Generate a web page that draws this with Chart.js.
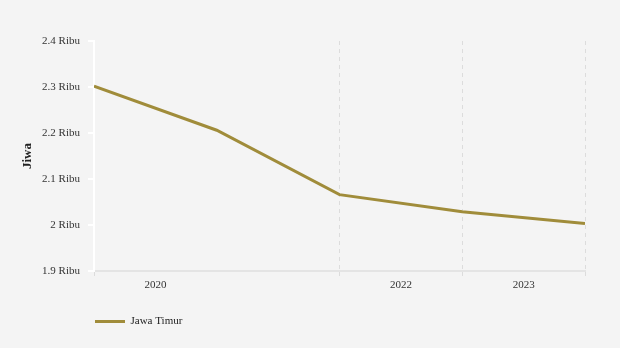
<!DOCTYPE html>
<html>
<head>
<meta charset="utf-8">
<script src="https://cdn.jsdelivr.net/npm/chart.js@4"></script>
<style>
  html, body { margin: 0; padding: 0; background: #f4f4f4; }
  #wrap { width: 620px; height: 348px; }
</style>
</head>
<body>
<div id="wrap"><canvas id="chart"></canvas></div>
<script>
// Data (values in Ribu)
const xPos = [0, 1, 2, 3, 4];
const values = [2.302, 2.206, 2.066, 2.029, 2.003];
const seriesName = "Jawa Timur";
const gridTicks = [0, 2, 3, 4];
const labelTicks = [0.5, 2.5, 3.5];
const labelText = ["2020", "2022", "2023"];

const lineColor = "#a08c3a";
const fontFamily = "'Liberation Serif', 'Times New Roman', serif";

const ctx = document.getElementById("chart");
new Chart(ctx, {
  type: "line",
  data: {
    datasets: [{
      label: seriesName,
      data: xPos.map((x, i) => ({ x: x, y: values[i] })),
      borderColor: lineColor,
      backgroundColor: lineColor,
      borderWidth: 3,
      pointRadius: 0,
      tension: 0
    }]
  },
  options: {
    responsive: true,
    maintainAspectRatio: false,
    animation: false,
    layout: { padding: { left: 0, right: 35, top: 41, bottom: 11 } },
    plugins: {
      tooltip: { enabled: false },
      legend: {
        position: "bottom",
        align: "start",
        fullSize: false,
        labels: {
          usePointStyle: true,
          pointStyle: "line",
          pointStyleWidth: 30,
          boxHeight: 11,
          padding: 1,
          color: "#222",
          font: { family: fontFamily, size: 11 }
        }
      }
    },
    scales: {
      x: {
        type: "linear",
        min: 0,
        max: 4,
        afterBuildTicks: (scale) => {
          scale.ticks = gridTicks.concat(labelTicks).sort((a, b) => a - b).map(v => ({ value: v }));
        },
        afterFit: (scale) => { scale.height = 44; },
        border: { display: true, color: "#e4e4e4", width: 2, dash: [4, 4] },
        grid: {
          color: (c) => (c.tick && labelTicks.includes(c.tick.value)) ? "rgba(0,0,0,0)" : "#dcdcdc",
          lineWidth: 1,
          tickLength: 6,
          tickBorderDash: [4, 4],
          drawTicks: true
        },
        ticks: {
          autoSkip: false,
          maxRotation: 0,
          padding: 2,
          color: "#333",
          font: { family: fontFamily, size: 11 },
          callback: (v) => {
            const i = labelTicks.indexOf(v);
            return i >= 0 ? labelText[i] : "";
          }
        }
      },
      y: {
        min: 1.9,
        max: 2.4,
        afterFit: (scale) => { scale.width = 94; },
        border: { display: true, color: "#ffffff", width: 2 },
        grid: {
          drawOnChartArea: false,
          color: "#ffffff",
          tickLength: 6,
          lineWidth: 2
        },
        ticks: {
          stepSize: 0.1,
          padding: 8,
          color: "#333",
          font: { family: fontFamily, size: 11 },
          callback: (v) => Number(v.toFixed(1)) + " Ribu"
        },
        title: {
          display: true,
          text: "Jiwa",
          color: "#222",
          padding: { top: 20, bottom: 0 },
          font: { family: fontFamily, size: 13, weight: "bold" }
        }
      }
    }
  }
});
</script>
</body>
</html>
